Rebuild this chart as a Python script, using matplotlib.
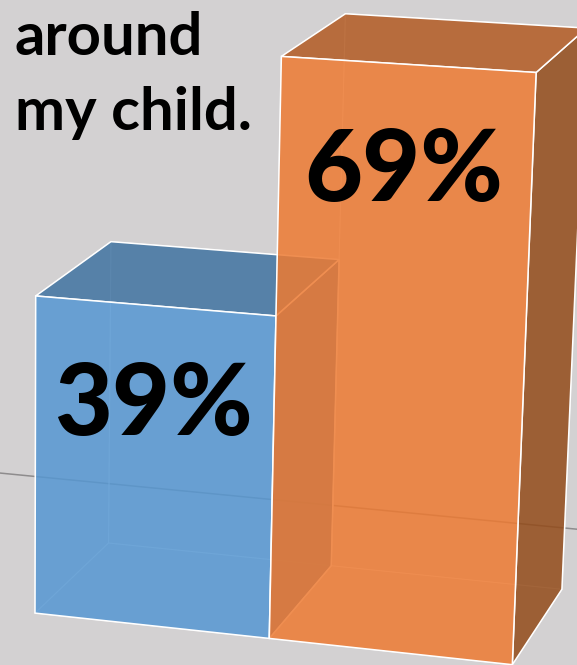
import numpy as np
import matplotlib
matplotlib.use("Agg")
import matplotlib.pyplot as plt
from matplotlib.patches import Polygon
from matplotlib.colors import to_rgba

caption = ["around", "my child."]
values = [39, 69]
face_colors = ["#5697D2", "#ED7A32"]
top_colors = ["#4073A1", "#B35B23"]
side_colors = ["#40709C", "#934B19"]

BG = "#D3D1D2"
ALPHA = 0.85
DEPTH = 1.0        # bar depth, in slot widths
WALL = 1.85        # where the floor meets the back wall

# perspective camera: (slot, depth, percent) -> pixel coords
CAMERA = np.array([[229.3829, 79.68927, -0.004365935, 35.00698],
                   [13.76088, -39.256, -8.317397, 613.0938],
                   [-0.01810309, 0.05674704, -0.000628269, 1.0]])


def project(pts):
    pts = np.atleast_2d(np.asarray(pts, float))
    h = CAMERA @ np.c_[pts, np.ones(len(pts))].T
    return (h[:2] / h[2]).T


def box_faces(x0, x1, h, d):
    faces = {
        "back":   [(x0, d, 0), (x1, d, 0), (x1, d, h), (x0, d, h)],
        "left":   [(x0, 0, 0), (x0, d, 0), (x0, d, h), (x0, 0, h)],
        "bottom": [(x0, 0, 0), (x1, 0, 0), (x1, d, 0), (x0, d, 0)],
        "right":  [(x1, 0, 0), (x1, d, 0), (x1, d, h), (x1, 0, h)],
        "top":    [(x0, 0, h), (x1, 0, h), (x1, d, h), (x0, d, h)],
        "front":  [(x0, 0, 0), (x1, 0, 0), (x1, 0, h), (x0, 0, h)],
    }
    return {k: project(v) for k, v in faces.items()}


fig = plt.figure(figsize=(5.77, 6.65), dpi=100)
fig.patch.set_facecolor(BG)
ax = fig.add_axes([0, 0, 1, 1])
ax.set_xlim(0, 577)
ax.set_ylim(665, 0)
ax.axis("off")

# floor / back wall line
wall = project([(-2, WALL, 0), (4, WALL, 0)])
ax.plot(wall[:, 0], wall[:, 1], color="#8E8C8D", lw=1.1, zorder=1)

for i, v in enumerate(values):
    f = box_faces(i, i + 1, v, DEPTH)
    z = 2 + i * 2
    # hidden faces: only their edges, seen through the glass
    for k in ("back", "left", "bottom"):
        ax.add_patch(Polygon(f[k], closed=True, fill=False,
                             edgecolor=to_rgba("white", 0.6), lw=0.7, zorder=z))
    fills = {"right": side_colors[i], "top": top_colors[i], "front": face_colors[i]}
    for k, c in fills.items():
        ax.add_patch(Polygon(f[k], closed=True, facecolor=to_rgba(c, ALPHA),
                             edgecolor="white", lw=1.1, zorder=z + 1))

    lx, ly = project([(i + 0.5, 0, v - 15.5)])[0]
    ax.text(lx, ly, f"{v}%", ha="center", va="baseline", fontsize=72,
            fontweight=900, family="Lato", color="black", zorder=10)

ax.text(15, 55, caption[0], ha="left", va="baseline", fontsize=43,
        fontweight="bold", family="Lato", color="black", zorder=10)
ax.text(15, 130, caption[1], ha="left", va="baseline", fontsize=43,
        fontweight="bold", family="Lato", color="black", zorder=10)

fig.savefig("out.png", facecolor=BG)
